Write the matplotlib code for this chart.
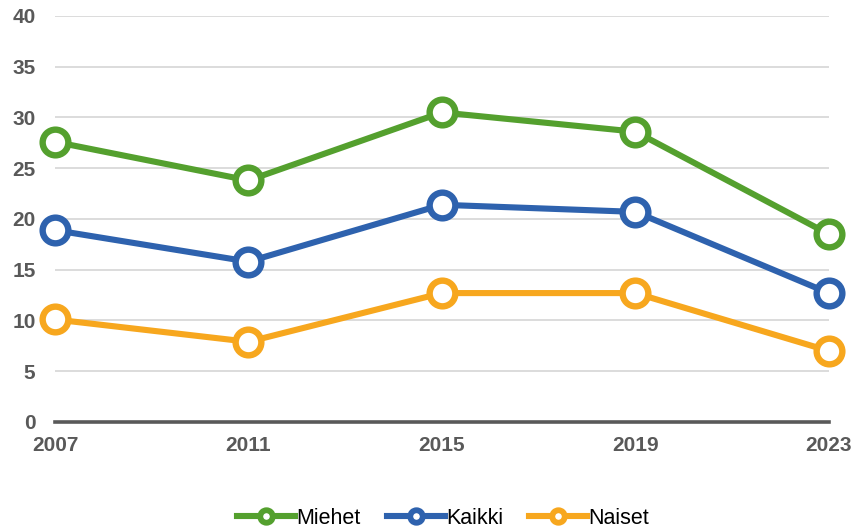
import matplotlib.pyplot as plt
from matplotlib.lines import Line2D

plt.rcParams['font.family'] = ['Liberation Sans', 'DejaVu Sans']

# data
years = ['2007', '2011', '2015', '2019', '2023']
miehet = [27.6, 23.8, 30.5, 28.6, 18.5]
kaikki = [18.9, 15.8, 21.4, 20.7, 12.7]
naiset = [10.1, 7.9, 12.7, 12.7, 7.0]
yticks = [0, 5, 10, 15, 20, 25, 30, 35, 40]

series = [
    ('Miehet', miehet, '#54A02E'),
    ('Kaikki', kaikki, '#2E62AE'),
    ('Naiset', naiset, '#F7A71E'),
]

fig = plt.figure(figsize=(8.67, 5.28), dpi=100)
ax = fig.add_axes([0.0634, 0.2008, 0.8926, 0.7689])

x = list(range(len(years)))
for name, vals, col in series:
    ax.plot(x, vals, color=col, linewidth=4.4, marker='o', markersize=18.5,
            markerfacecolor='white', markeredgecolor=col, markeredgewidth=4.6,
            zorder=3, clip_on=False)

ax.set_xlim(0, len(years) - 1)
ax.set_ylim(0, 40)
ax.set_xticks(x)
ax.set_xticklabels(years)
ax.set_yticks(yticks)

for s in ['top', 'right', 'left']:
    ax.spines[s].set_visible(False)
ax.spines['bottom'].set_color('#595959')
ax.spines['bottom'].set_linewidth(2.6)
ax.spines['bottom'].set_zorder(2)

ax.grid(axis='y', color='#D9D9D9', linewidth=1.3)
ax.set_axisbelow(True)
ax.tick_params(axis='both', length=0, labelsize=15, labelcolor='#595959')
ax.tick_params(axis='y', pad=14)
ax.tick_params(axis='x', pad=10)
for lab in ax.get_xticklabels() + ax.get_yticklabels():
    lab.set_fontweight('bold')

# legend at bottom
handles = [Line2D([0], [0], color=col, linewidth=4.4, marker='o', markersize=9,
                  markerfacecolor='white', markeredgecolor=col, markeredgewidth=4.2)
           for _, _, col in series]
fig.legend(handles, [s[0] for s in series], loc='lower center', ncol=3,
           bbox_to_anchor=(0.511, -0.038), frameon=False, fontsize=15.5,
           handlelength=2.7, handletextpad=0.05, columnspacing=1.2)

fig.savefig('out.png', dpi=100)
